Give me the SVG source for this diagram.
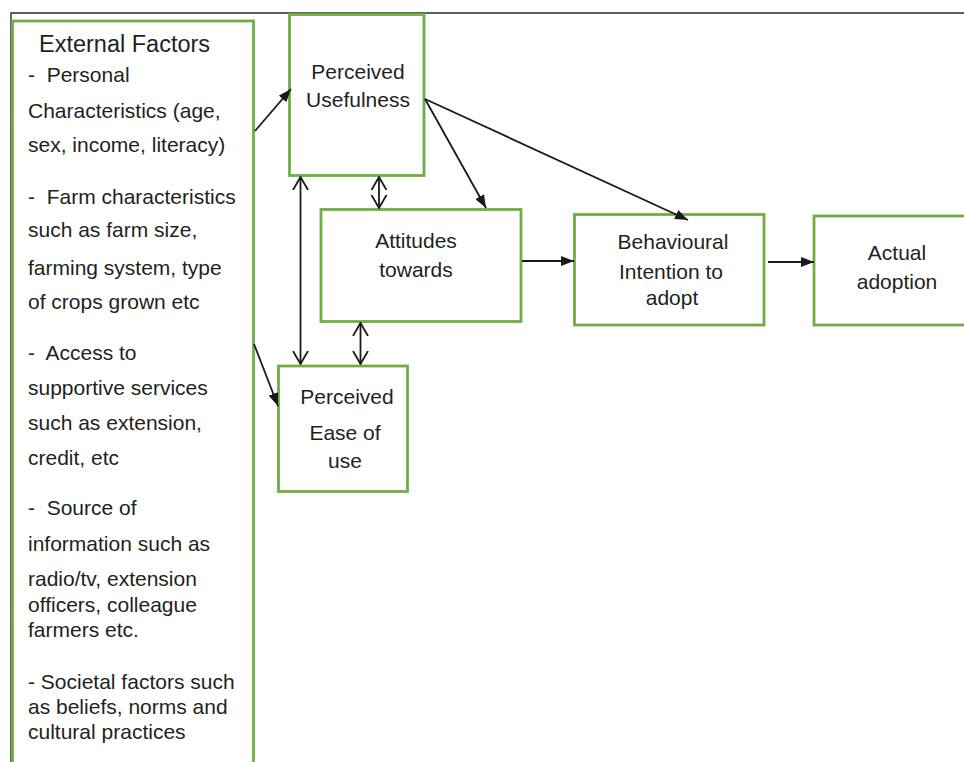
<svg xmlns="http://www.w3.org/2000/svg" width="964" height="762" viewBox="0 0 964 762">
<defs>
<style>
.box{fill:#fff;stroke:#70ad47;stroke-width:2.8}
.t{font-family:"Liberation Sans",Arial,sans-serif;font-size:21px;fill:#231f20}
.c{text-anchor:middle}
.ln{stroke:#1a1a1a;stroke-width:1.8;fill:none}
</style>
<marker id="fa" viewBox="0 0 13 10" refX="13" refY="5" markerWidth="13" markerHeight="10" markerUnits="userSpaceOnUse" orient="auto">
<path d="M0,0 L13,5 L0,10 z" fill="#1a1a1a"/>
</marker>
<marker id="oa" viewBox="0 0 14 18" refX="13" refY="9" markerWidth="14" markerHeight="18" markerUnits="userSpaceOnUse" orient="auto">
<path d="M0,1.5 L13,9 L0,16.5" fill="none" stroke="#1a1a1a" stroke-width="1.8"/>
</marker>
<marker id="oas" viewBox="0 0 14 18" refX="13" refY="9" markerWidth="14" markerHeight="18" markerUnits="userSpaceOnUse" orient="auto-start-reverse">
<path d="M0,1.5 L13,9 L0,16.5" fill="none" stroke="#1a1a1a" stroke-width="1.8"/>
</marker>
</defs>
<rect width="964" height="762" fill="#fff"/>
<path d="M11,762 V13 H964" stroke="#2a2a2a" stroke-width="1.4" fill="none"/>

<g id="external-factors">
<rect class="box" x="12.5" y="21" width="241" height="760"/>
<text class="t" x="39" y="52" style="font-size:23.5px">External Factors</text>
<text class="t" x="28" y="82" xml:space="preserve">-  Personal</text>
<text class="t" x="28" y="118">Characteristics (age,</text>
<text class="t" x="28" y="152">sex, income, literacy)</text>
<text class="t" x="28" y="204" xml:space="preserve">-  Farm characteristics</text>
<text class="t" x="28" y="237">such as farm size,</text>
<text class="t" x="28" y="275">farming system, type</text>
<text class="t" x="28" y="309">of crops grown etc</text>
<text class="t" x="28" y="360" xml:space="preserve">-  Access to</text>
<text class="t" x="28" y="395">supportive services</text>
<text class="t" x="28" y="430">such as extension,</text>
<text class="t" x="28" y="465">credit, etc</text>
<text class="t" x="28" y="515" xml:space="preserve">-  Source of</text>
<text class="t" x="28" y="551">information such as</text>
<text class="t" x="28" y="586">radio/tv, extension</text>
<text class="t" x="28" y="612">officers, colleague</text>
<text class="t" x="28" y="637">farmers etc.</text>
<text class="t" x="28" y="689">- Societal factors such</text>
<text class="t" x="28" y="714">as beliefs, norms and</text>
<text class="t" x="28" y="739">cultural practices</text>
</g>

<g id="perceived-usefulness">
<rect class="box" x="289.5" y="14.5" width="134.5" height="161"/>
<text class="t c" x="358" y="79">Perceived</text>
<text class="t c" x="358" y="107">Usefulness</text>
</g>

<g id="attitudes">
<rect class="box" x="321" y="209.5" width="200" height="112"/>
<text class="t c" x="416" y="248">Attitudes</text>
<text class="t c" x="416" y="277">towards</text>
</g>

<g id="behavioural-intention">
<rect class="box" x="574.5" y="214.5" width="189.5" height="110.5"/>
<text class="t c" x="673" y="249">Behavioural</text>
<text class="t c" x="671" y="279">Intention to</text>
<text class="t c" x="672" y="305">adopt</text>
</g>

<g id="actual-adoption">
<rect class="box" x="814" y="216" width="160" height="109"/>
<text class="t c" x="897" y="260">Actual</text>
<text class="t c" x="897" y="289">adoption</text>
</g>

<g id="perceived-ease">
<rect class="box" x="278.5" y="366" width="129" height="125.5"/>
<text class="t c" x="347" y="404">Perceived</text>
<text class="t c" x="345" y="440">Ease of</text>
<text class="t c" x="345" y="468">use</text>
</g>

<g id="connectors">
<line class="ln" x1="255" y1="131" x2="291" y2="89" marker-end="url(#fa)"/>
<line class="ln" x1="254" y1="344" x2="278" y2="406" marker-end="url(#fa)"/>
<line class="ln" x1="300.5" y1="177" x2="300.5" y2="364" marker-start="url(#oas)" marker-end="url(#oa)"/>
<line class="ln" x1="379" y1="177" x2="379" y2="208" marker-start="url(#oas)" marker-end="url(#oa)"/>
<line class="ln" x1="360.5" y1="323" x2="360.5" y2="364" marker-start="url(#oas)" marker-end="url(#oa)"/>
<line class="ln" x1="425" y1="99" x2="486" y2="208" marker-end="url(#fa)"/>
<line class="ln" x1="425" y1="99" x2="688" y2="220" marker-end="url(#fa)"/>
<line class="ln" x1="522" y1="261" x2="574" y2="261" marker-end="url(#fa)"/>
<line class="ln" x1="768" y1="262" x2="814" y2="262" marker-end="url(#fa)"/>
</g>
</svg>
